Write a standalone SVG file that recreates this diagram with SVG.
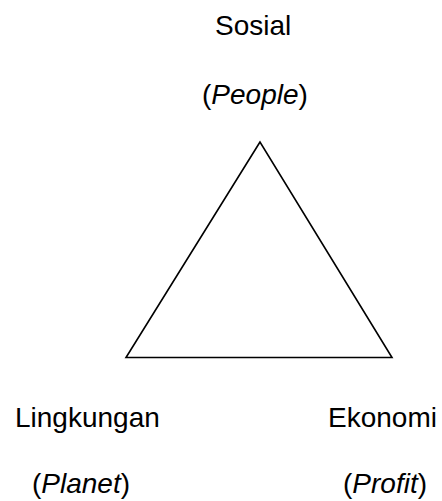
<svg xmlns="http://www.w3.org/2000/svg" width="442" height="501" viewBox="0 0 442 501">
<style>
text{font-family:"Liberation Sans",Arial,sans-serif;font-size:28px;fill:#000}
.it{font-style:italic}
</style>
<rect width="442" height="501" fill="#fff"/>
<g id="triangle">
<polygon points="260,142 126,357.5 392,357.5" fill="none" stroke="#000" stroke-width="1.6" stroke-linejoin="miter"/>
</g>
<g id="sosial">
<text x="215" y="35">Sosial</text>
<text x="202" y="104">(<tspan class="it">People</tspan>)</text>
</g>
<g id="lingkungan">
<text x="15" y="427">Lingkungan</text>
<text x="32" y="493">(<tspan class="it">Planet</tspan>)</text>
</g>
<g id="ekonomi">
<text x="328" y="427">Ekonomi</text>
<text x="343" y="493">(<tspan class="it">Profit</tspan>)</text>
</g>
</svg>
